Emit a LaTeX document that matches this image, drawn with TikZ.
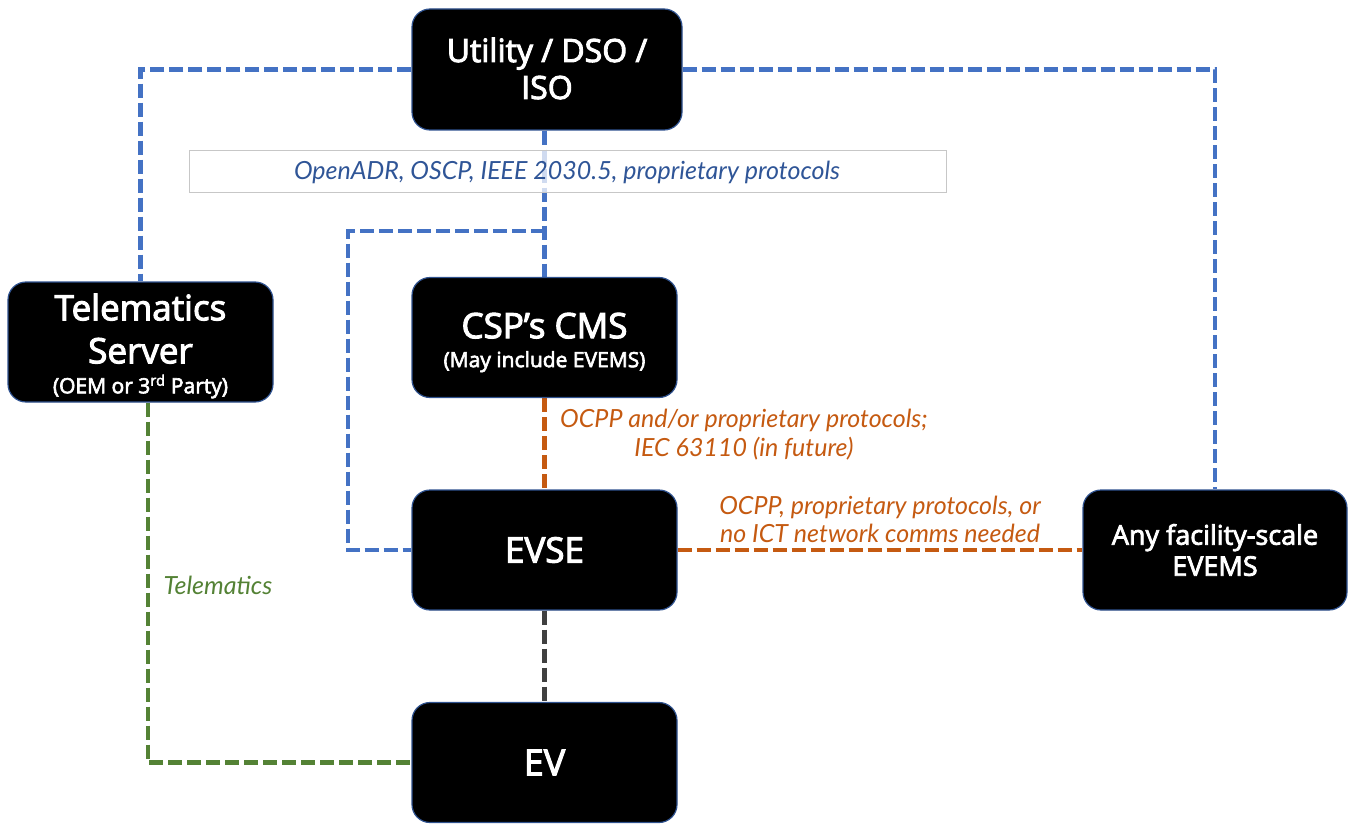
\documentclass[tikz,border=0pt]{standalone}
\usepackage{fontspec}
\setmainfont{Open Sans}
\newfontfamily\boxfont{Open Sans}[FakeBold=3]
\newfontfamily\labfont{Lato}
\newcommand{\bsize}[2]{\fontsize{#1}{#2}\selectfont}
\pgfdeclarelayer{links}
\pgfsetlayers{links,main}
\begin{document}
\begin{tikzpicture}[x=1pt,y=-1pt,
  box/.style={draw=boxedge,line width=1.2pt,fill=black,rounded corners=18pt,
    inner sep=0pt,minimum width=265pt,minimum height=120pt},
  boxtext/.style={text=white,align=center,inner sep=0pt},
  link/.style={line width=4.2pt,dash pattern=on 14pt off 5pt},
  bluelink/.style={link,draw=linkblue},
  orangelink/.style={link,draw=linkorange},
  greenlink/.style={link,draw=linkgreen},
  graylink/.style={link,draw=linkgray},
  lab/.style={align=center,inner sep=0pt}
]
\definecolor{boxedge}{HTML}{2F528F}
\definecolor{linkblue}{HTML}{4472C4}
\definecolor{linkorange}{HTML}{C55A11}
\definecolor{linkgreen}{HTML}{548235}
\definecolor{linkgray}{HTML}{404040}
\definecolor{labblue}{HTML}{2F5597}
\useasboundingbox (0,0) rectangle (1351,824);

% the boxes
\node[box,minimum width=270pt,minimum height=121pt] (utility) at (547,69.5) {};
\node[box] (telematics) at (140.5,342) {};
\node[box] (cms) at (544.5,337.5) {};
\node[box] (evsebox) at (544.5,550) {};
\node[box] (evbox) at (544.5,762.5) {};
\node[box,minimum width=264pt] (evemsbox) at (1215,550) {};

% box texts
\node[boxtext,font=\boxfont\bsize{32}{37}] (utilitytxt) at ([yshift=1pt]utility.center)
  {Utility / DSO /\\ISO};
\node[boxtext,font=\boxfont\bsize{35}{43}] (teletxt) at ([yshift=-4pt]telematics.center)
  {Telematics\\Server\\[-13pt]{\bsize{21}{22}(OEM or 3\textsuperscript{rd} Party)}};
\node[boxtext,font=\boxfont\bsize{35}{29}] (cmstxt) at ([yshift=-5pt]cms.center)
  {CSP’s CMS\\{\bsize{21}{22}(May include EVEMS)}};
\node[boxtext,font=\boxfont\bsize{35}{38}] (evsetxt) at (evsebox.center) {EVSE};
\node[boxtext,font=\boxfont\bsize{36}{38}] (evtxt) at (evbox.center) {EV};
\node[boxtext,font=\boxfont\bsize{27}{31}] (evemstxt) at (evemsbox.center)
  {Any facility-scale\\EVEMS};

% connectors, behind the boxes
\begin{pgfonlayer}{links}
  % blue links from the utility
  \draw[bluelink] (utility.west) -| (telematics.north);
  \draw[bluelink] (utility.east) -| (evemsbox.north);
  \draw[bluelink] (utility.south -| cms.north) -- (cms.north);
  \coordinate (branch) at (cms.north |- 0,231);
  \coordinate (corner) at (348,231);
  \draw[bluelink] (branch) -- (corner) |- (evsebox.west);
  % orange links
  \draw[orangelink] (cms.south) -- (evsebox.north);
  \draw[orangelink] (evsebox.east) -- (evemsbox.west);
  % gray link EVSE - EV
  \draw[graylink] (evsebox.south) -- (evbox.north);
  % green telematics link
  \draw[greenlink] ([xshift=7.5pt]telematics.south) |- (evbox.west);
\end{pgfonlayer}

% protocol label strip
\node[draw=black!22,fill=white,fill opacity=0.75,text opacity=1,line width=1pt,
  minimum width=757pt,minimum height=42pt,inner sep=0pt] (strip) at (567.5,171)
  {};
\node[lab,text=labblue,font=\labfont\itshape\bsize{25}{29}] (striptext) at (567,172)
  {OpenADR, OSCP, IEEE 2030.5, proprietary protocols};

% connector labels
\node[lab,text=linkorange,font=\labfont\itshape\bsize{25}{29}] (cmslab) at (744,435)
  {OCPP and/or proprietary protocols;\\IEC 63110 (in future)};
\node[lab,text=linkorange,font=\labfont\itshape\bsize{25}{28}] (evemslab) at (880,519)
  {OCPP, proprietary protocols, or\\no ICT network comms needed};
\node[lab,text=linkgreen,font=\labfont\itshape\bsize{25}{29}] (telelab) at (218,585)
  {Telematics};
\end{tikzpicture}
\end{document}
